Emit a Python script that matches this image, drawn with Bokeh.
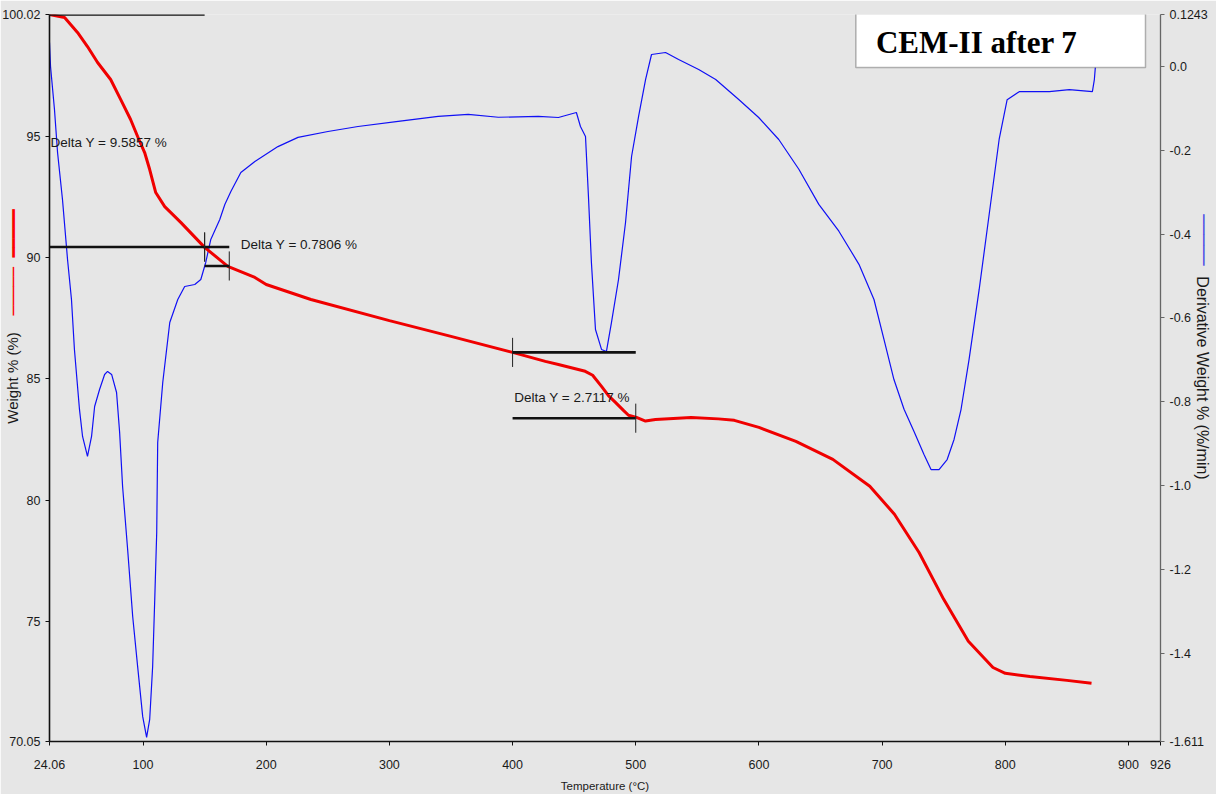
import math
from bokeh.plotting import figure
from bokeh.models import (Range1d, LinearAxis, FixedTicker, CustomJSTickFormatter,
                          Label, BoxAnnotation)
from bokeh.embed import file_html
from bokeh.resources import INLINE

# ---------------- data ----------------
weight_T = [24.06, 36.3, 46.8, 54.9, 63.1, 73.7, 81.8, 89.9, 95.6, 101.3, 105.4, 110.3,
            117.6, 130.6, 150.0, 168.8, 190.8, 200.0, 236.3, 300.0, 350.0, 400.0, 426.6,
            437.2, 459.0, 465.0, 472.2, 478.0, 483.5, 490.0, 494.1, 500.6, 507.9, 516.0,
            545.0, 567.0, 580.0, 600.0, 630.0, 660.0, 690.0, 710.0, 730.0, 750.0, 770.0,
            790.0, 800.0, 820.0, 850.0, 870.0]
weight_pct = [100.02, 99.90, 99.28, 98.70, 98.04, 97.34, 96.52, 95.69, 94.99, 94.33, 93.63, 92.68,
              92.10, 91.45, 90.42, 89.64, 89.18, 88.89, 88.27, 87.40, 86.75, 86.09, 85.72,
              85.59, 85.31, 85.15, 84.69, 84.30, 84.03, 83.70, 83.50, 83.41, 83.26, 83.32,
              83.41, 83.35, 83.29, 83.00, 82.42, 81.68, 80.57, 79.42, 77.84, 75.91, 74.18,
              73.10, 72.86, 72.73, 72.57, 72.45]

deriv_T = [24.06, 24.9, 28.1, 30.6, 34.6, 38.7, 41.9, 44.3, 48.4, 50.9, 54.9, 58.2, 60.7,
           64.7, 68.8, 71.2, 74.5, 78.5, 81.0, 83.4, 87.5, 91.6, 95.6, 99.7, 102.9, 105.4,
           107.8, 109.5, 111.1, 111.9, 116.0, 121.7, 128.2, 133.8, 142.0, 146.9, 150.9,
           155.0, 162.3, 166.4, 171.3, 179.4, 190.8, 209.5, 225.8, 250.1, 274.5, 307.1,
           339.6, 364.0, 388.4, 420.9, 437.2, 451.8, 455.1, 459.2, 461.6, 464.0, 467.3,
           472.2, 476.2, 480.3, 486.0, 491.7, 496.6, 502.3, 508.0, 512.8, 524.2, 534.8,
           551.1, 564.9, 583.6, 599.8, 616.1, 632.4, 648.6, 664.9, 681.2, 693.4, 701.5,
           709.6, 717.8, 725.9, 734.0, 739.7, 746.2, 752.8, 758.4, 764.1, 770.6, 778.8,
           786.9, 795.0, 801.5, 811.3, 835.7, 852.0, 870.7, 872.3, 873.1]
deriv_val = [0.0575, 0.0002, -0.1024, -0.2050, -0.3172, -0.4604, -0.5559, -0.6752, -0.8184,
             -0.8829, -0.9306, -0.8829, -0.8113, -0.7707, -0.7349, -0.7277, -0.7349, -0.7779,
             -0.8733, -1.0022, -1.1526, -1.3125, -1.4318, -1.5511, -1.6013, -1.5583, -1.4318,
             -1.2719, -1.1120, -0.8972, -0.7540, -0.6108, -0.5559, -0.5249, -0.5201, -0.5082,
             -0.4676, -0.4127, -0.3650, -0.3292, -0.2981, -0.2528, -0.2265, -0.191, -0.169,
             -0.155, -0.143, -0.131, -0.119, -0.114, -0.121, -0.119, -0.1215, -0.1096, -0.1430,
             -0.1669, -0.3101, -0.4676, -0.6275, -0.6752, -0.6800, -0.6108, -0.5082, -0.3721,
             -0.2146, -0.1191, -0.0308, 0.0288, 0.0336, 0.0169, -0.0069, -0.0308, -0.0786,
             -0.1215, -0.174, -0.245, -0.329, -0.393, -0.472, -0.556, -0.651, -0.747, -0.818,
             -0.871, -0.926, -0.962, -0.962, -0.938, -0.890, -0.818, -0.699, -0.532, -0.353,
             -0.174, -0.079, -0.060, -0.060, -0.055, -0.060, -0.031, -0.002]

temp_ticks = [24.06, 100, 200, 300, 400, 500, 600, 700, 800, 900, 926]
temp_labels = ["24.06", "100", "200", "300", "400", "500", "600", "700", "800", "900", "926"]
weight_ticks = [100.02, 95, 90, 85, 80, 75, 70.05]
weight_labels = ["100.02", "95", "90", "85", "80", "75", "70.05"]
deriv_ticks = [0.1243, 0.0, -0.2, -0.4, -0.6, -0.8, -1.0, -1.2, -1.4, -1.611]
deriv_labels = ["0.1243", "0.0", "-0.2", "-0.4", "-0.6", "-0.8", "-1.0", "-1.2", "-1.4", "-1.611"]

delta_start = [24.06, 150.0, 400.0]
delta_end = [150.0, 170.0, 500.0]
delta_top = [100.02, 90.4343, 86.09]
delta_value = [9.5857, 0.7806, 2.7117]
delta_bottom = [t - v for t, v in zip(delta_top, delta_value)]

title_text = "CEM-II after 7"
x_title = "Temperature (°C)"
y_title = "Weight % (%)"
y2_title = "Derivative Weight % (%/min)"

# ---------------- figure ----------------
FONT = "Liberation Sans"
MONO = "DejaVu Sans Mono"
BG = "#e6e6e6"
TXT = "#1a1a1a"
NB = "\u00a0"

p = figure(frame_width=1111, frame_height=727, output_backend="svg", toolbar_location=None,
           x_range=Range1d(24.06, 926), y_range=Range1d(70.05, 100.02),
           min_border_left=49, min_border_top=14, min_border_right=48, min_border_bottom=40)
p.extra_y_ranges = {"deriv": Range1d(-1.611, 0.1243)}
p.background_fill_color = BG
p.border_fill_color = BG
p.outline_line_color = None
p.xgrid.visible = False
p.ygrid.visible = False

def fmt(ticks, labels):
    return CustomJSTickFormatter(args=dict(v=ticks, l=labels), code="""
        for (let i = 0; i < v.length; i++) { if (Math.abs(v[i] - tick) < 1e-6) return l[i]; }
        return '';""")

def style_axis(ax):
    ax.major_tick_out = 4
    ax.major_tick_in = 0
    ax.minor_tick_out = 0
    ax.minor_tick_in = 0
    ax.major_label_text_font = FONT
    ax.major_label_text_font_size = "12.5px"
    ax.major_label_text_color = TXT
    ax.axis_label_text_font = FONT
    ax.axis_label_text_font_style = "normal"
    ax.axis_label_text_color = TXT

def vertical(ax):
    try:
        ax.axis_label_orientation = "vertical"
    except Exception:
        pass

def dummy_axis(text, color, size, standoff, font=MONO, **kw):
    ax = LinearAxis(ticker=FixedTicker(ticks=[]), axis_line_color=None,
                    major_tick_out=0, major_tick_in=0, minor_tick_out=0, minor_tick_in=0,
                    major_label_standoff=0, axis_label=text, axis_label_text_font=font,
                    axis_label_text_font_size=size, axis_label_text_color=color,
                    axis_label_text_font_style="normal", axis_label_standoff=standoff, **kw)
    return ax

xa = p.xaxis[0]
xa.ticker = FixedTicker(ticks=temp_ticks)
xa.formatter = fmt(temp_ticks, temp_labels)
style_axis(xa)
xa.axis_line_color = "#111111"
xa.axis_line_width = 1.6
xa.major_tick_line_color = "#111111"
xa.major_label_standoff = 14
xa.axis_label = x_title
xa.axis_label_text_font_size = "11.5px"
xa.axis_label_standoff = 8

ya = p.yaxis[0]
ya.ticker = FixedTicker(ticks=weight_ticks)
ya.formatter = fmt(weight_ticks, weight_labels)
style_axis(ya)
ya.axis_line_color = "#111111"
ya.axis_line_width = 1.6
ya.major_tick_line_color = "#111111"
ya.major_label_standoff = 5
ya.axis_label = y_title
ya.axis_label_text_font_size = "15px"
ya.axis_label_standoff = -22

# red legend marks beside the left title
p.add_layout(dummy_axis(NB * 24 + "\u2500" * 5 + NB + "\u2501" * 5, "#ff0000", "16px", -21), "left")

ra = LinearAxis(y_range_name="deriv", ticker=FixedTicker(ticks=deriv_ticks),
                formatter=fmt(deriv_ticks, deriv_labels))
style_axis(ra)
ra.axis_line_color = "#666666"
ra.axis_line_width = 1.3
ra.major_tick_line_color = "#666666"
ra.major_label_standoff = 5
p.add_layout(ra, "right")

# right title
rt = dummy_axis(y2_title, TXT, "16px", -17, font=FONT, y_range_name="deriv")
vertical(rt)
p.add_layout(rt, "right")

# blue legend mark above the right title
bm = dummy_axis("\u2500" * 5 + NB * 27, "#4a4ae6", "17px", -20, y_range_name="deriv")
vertical(bm)
p.add_layout(bm, "right")

# curves
p.line(deriv_T, deriv_val, y_range_name="deriv", line_color="#1010f5", line_width=1.2)
p.line(weight_T, weight_pct, line_color="#f00000", line_width=3)

# delta annotations
h = 0.6
hx0, hx1, hy = [], [], []
for s, e, t, b in zip(delta_start, delta_end, delta_top, delta_bottom):
    hx0 += [s, s]
    hx1 += [e, e]
    hy += [t, b]
p.segment(x0=hx0, y0=hy, x1=hx1, y1=hy, line_color="#111111", line_width=2.6)
vx = delta_start[1:] + delta_end
vy = delta_top[1:] + delta_bottom
p.segment(x0=vx, y0=[y - h for y in vy], x1=vx, y1=[y + h for y in vy],
          line_color="#222222", line_width=1)

label_pos = [(24.9, 94.74), (179.4, 90.54), (401.4, 84.23)]
for (lx, ly), v in zip(label_pos, delta_value):
    p.add_layout(Label(x=lx, y=ly, text=f"Delta Y = {v:.4f} %", text_font=FONT,
                       text_font_size="13.5px", text_color=TXT, text_baseline="middle",
                       text_align="left"))

# title box
p.add_layout(BoxAnnotation(left=678.7, right=913.8, top=100.06, bottom=97.835,
                           fill_color="white", fill_alpha=1.0, line_color="#111111",
                           line_width=1.5))
p.add_layout(Label(x=695.0, y=98.87, text=title_text, text_font="Liberation Serif",
                   text_font_style="bold", text_font_size="31px", text_color="black",
                   text_baseline="middle", text_align="left"))

open("out.html", "w").write(file_html(p, INLINE))
